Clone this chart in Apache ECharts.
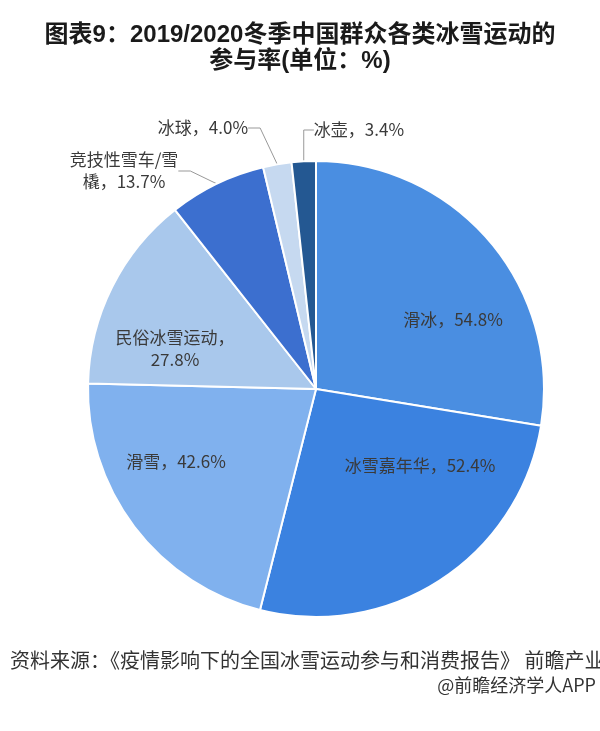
<!DOCTYPE html>
<html><head><meta charset="utf-8">
<script src="https://cdn.jsdelivr.net/npm/echarts@6/dist/echarts.min.js"></script>
<style>html,body{margin:0;padding:0;background:#fff;}#c{width:600px;height:731px;}</style>
</head><body><div id="c"></div>
<script>
const categories = ['滑冰', '冰雪嘉年华', '滑雪', '民俗冰雪运动', '竞技性雪车/雪橇', '冰球', '冰壶'];
const values = [54.8, 52.4, 42.6, 27.8, 13.7, 4.0, 3.4];
const labelTexts = ['滑冰，54.8%', '冰雪嘉年华，52.4%', '滑雪，42.6%', '民俗冰雪运动，\n27.8%', '竞技性雪车/雪\n橇，13.7%', '冰球，4.0%', '冰壶，3.4%'];
const colors = ['#4A8EE1', '#3B82E0', '#80B1EE', '#A9C8EC', '#3C6FCF', '#C6D9F0', '#245892'];

const labelPos = [[453, 320], [420, 466], [176, 462], [175, 349], [124, 171], [203, 128], [359, 130]];
const insideCount = 4;

const chart = echarts.init(document.getElementById('c'), null, {renderer: 'canvas'});
const font = '"Noto Sans CJK SC", "Noto Sans", sans-serif';
chart.setOption({
  backgroundColor: '#ffffff',
  animation: false,
  title: {
    text: '图表9：2019/2020冬季中国群众各类冰雪运动的\n参与率(单位：%)',
    left: 'center', top: 17,
    textStyle: {fontFamily: '"Liberation Sans", "Noto Sans CJK SC", sans-serif', fontWeight: 'bold', fontSize: 24, lineHeight: 26, color: '#1a1a1a'}
  },
  graphic: [
    {type: 'text', left: 10, top: 650, style: {text: '资料来源：《疫情影响下的全国冰雪运动参与和消费报告》 前瞻产业研究院', fontFamily: font, fontSize: 20, fill: '#333'}},
    {type: 'text', right: 4, top: 676, style: {text: '@前瞻经济学人APP', fontFamily: font, fontSize: 18, fill: '#333'}}
  ],
  series: [{
    type: 'pie',
    center: [316, 389],
    radius: [0, 228],
    startAngle: 90,
    clockwise: true,
    avoidLabelOverlap: false,
    itemStyle: {borderColor: '#ffffff', borderWidth: 2},
    label: {
      fontFamily: font, fontSize: 17, color: '#3a3a3a', lineHeight: 22,
      formatter: p => labelTexts[p.dataIndex]
    },
    labelLine: {lineStyle: {color: '#999', width: 1}, length: 15, length2: 12},
    labelLayout: function (params) {
      const p = labelPos[params.dataIndex];
      return {x: p[0], y: p[1], align: 'center', verticalAlign: 'middle'};
    },
    data: categories.map((name, i) => ({
      name: name, value: values[i],
      itemStyle: {color: colors[i]},
      label: {position: i < insideCount ? 'inside' : 'outside'},
      labelLine: {show: i >= insideCount}
    }))
  }]
});
</script>
</body></html>
